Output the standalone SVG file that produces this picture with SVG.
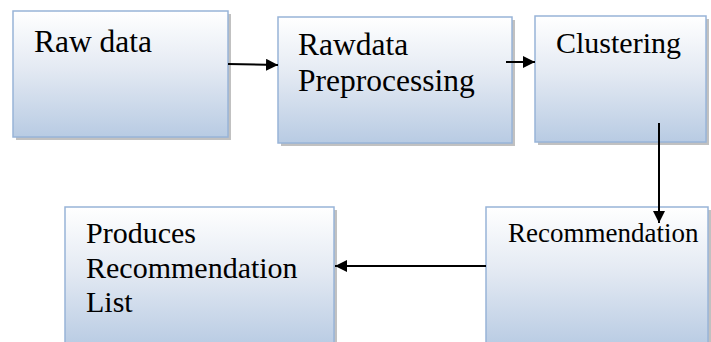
<svg xmlns="http://www.w3.org/2000/svg" width="711" height="342" viewBox="0 0 711 342">
<defs>
<linearGradient id="g" x1="0" y1="0" x2="0" y2="1">
<stop offset="0" stop-color="#ffffff"/>
<stop offset="0.45" stop-color="#e4eaf3"/>
<stop offset="1" stop-color="#b8cbe3"/>
</linearGradient>
<marker id="ah" viewBox="0 0 12 12" refX="12" refY="6" markerWidth="12" markerHeight="12" markerUnits="userSpaceOnUse" orient="auto">
<path d="M0,0 L12,6 L0,12 z" fill="#000"/>
</marker>
</defs>
<style>
.sh{fill:#a6a6a6;opacity:0.7}
.bx{fill:url(#g);stroke:#98b4d8;stroke-width:1.5}
.c{stroke:#000;stroke-width:2;fill:none;marker-end:url(#ah)}
</style>
<rect width="711" height="342" fill="#fff"/>
<g font-family="Liberation Serif" font-size="30" fill="#000">
<g id="raw-data">
<rect class="sh" x="16" y="14" width="215" height="126"/>
<rect class="bx" x="13" y="11" width="215" height="126"/>
<text x="34" y="52" font-size="31.5">Raw data</text>
</g>
<g id="preprocessing">
<rect class="sh" x="281" y="20" width="234" height="126"/>
<rect class="bx" x="278" y="17" width="234" height="126"/>
<text x="298" y="55" font-size="31.5">Rawdata</text>
<text x="298" y="91" font-size="31.5">Preprocessing</text>
</g>
<g id="clustering">
<rect class="sh" x="538" y="19" width="171" height="126"/>
<rect class="bx" x="535" y="16" width="171" height="126"/>
<text x="556" y="53">Clustering</text>
</g>
<g id="recommendation">
<rect class="sh" x="489" y="210" width="222" height="140"/>
<rect class="bx" x="486" y="207" width="222" height="140"/>
<text x="508" y="242" font-size="27">Recommendation</text>
</g>
<g id="produces-list">
<rect class="sh" x="68" y="210" width="269" height="140"/>
<rect class="bx" x="65" y="207" width="269" height="140"/>
<text x="86" y="243">Produces</text>
<text x="86" y="278">Recommendation</text>
<text x="86" y="312">List</text>
</g>
</g>
<g id="connectors">
<path class="c" d="M228,64 L278,65"/>
<path class="c" d="M506,62 L535,62"/>
<path class="c" d="M659,123 L659,223"/>
<path class="c" d="M486,266 L335,266"/>
</g>
</svg>
